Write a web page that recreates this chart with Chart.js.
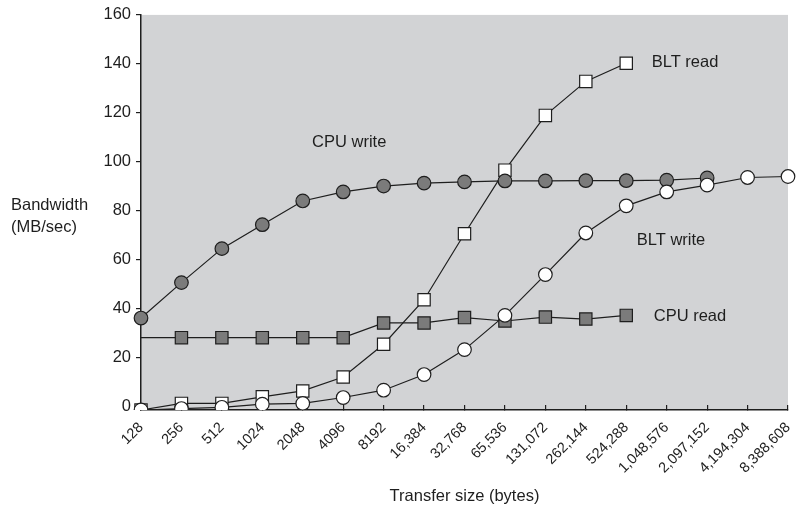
<!DOCTYPE html>
<html>
<head>
<meta charset="utf-8">
<script src="https://cdn.jsdelivr.net/npm/chart.js@4.4.1/dist/chart.umd.min.js"></script>
<style>
  html, body { margin: 0; padding: 0; background: #fff; }
  canvas { display: block; }
</style>
</head>
<body>
<canvas id="chart" width="801" height="507"></canvas>
<script>
// transfer sizes in bytes (x categories)
const sizes = ['128', '256', '512', '1024', '2048', '4096', '8192', '16,384', '32,768', '65,536',
  '131,072', '262,144', '524,288', '1,048,576', '2,097,152', '4,194,304', '8,388,608'];

// bandwidth in MB/sec
const cpuWrite = [36, 50.5, 64.4, 74.2, 83.9, 87.6, 90, 91.2, 91.7, 92.1, 92.1, 92.2, 92.2, 92.4, 93.3, null, null];
const cpuRead = [28, 28, 28, 28, 28, 28, 34, 34, 36.2, 34.8, 36.4, 35.6, 37.1, null, null, null, null];
const bltRead = [-1.6, 1.1, 1.1, 3.8, 6.2, 11.9, 25.3, 43.5, 70.5, 96.5, 118.9, 132.8, 140.2, null, null, null, null];
const bltWrite = [-1.6, -1, -0.5, 0.8, 1.1, 3.5, 6.5, 12.9, 23.1, 37.1, 53.8, 70.8, 81.9, 87.6, 90.4, 93.5, 93.9];

const yTicks = [0, 20, 40, 60, 80, 100, 120, 140, 160];
const seriesNames = ['CPU write', 'CPU read', 'BLT read', 'BLT write'];

const FONT = "'Liberation Sans', Arial, Helvetica, sans-serif";
const INK = '#1e1e1e';
const DARK_FILL = '#7b7b7b';

// where the series names sit, in data units (category index, MB/sec)
const namePlaces = {
  'CPU write': [4.23, 107.7],
  'BLT read': [12.63, 140.6],
  'BLT write': [12.26, 67.7],
  'CPU read': [12.68, 36.7],
};

const decor = {
  id: 'decor',
  beforeDraw(chart) {
    const { ctx, chartArea: a } = chart;
    ctx.save();
    ctx.fillStyle = '#d2d3d5';
    ctx.fillRect(a.left, a.top, a.right - a.left, a.bottom - a.top);
    ctx.restore();
  },
  afterDraw(chart) {
    const { ctx, scales } = chart;
    ctx.save();
    ctx.fillStyle = INK;
    ctx.font = '16.5px ' + FONT;
    ctx.textBaseline = 'middle';
    ctx.textAlign = 'left';
    for (const name of seriesNames) {
      const [i, v] = namePlaces[name];
      ctx.fillText(name, scales.x.getPixelForValue(i), scales.y.getPixelForValue(v));
    }
    ctx.fillText('Bandwidth', 11, 205);
    ctx.fillText('(MB/sec)', 11, 227);
    ctx.restore();
  },
};

function line(label, data, style, fill, radius) {
  return {
    label,
    data,
    borderColor: INK,
    borderWidth: 1.2,
    pointStyle: style,
    pointRadius: radius,
    pointBackgroundColor: fill,
    pointBorderColor: INK,
    pointBorderWidth: 1.2,
    tension: 0,
    spanGaps: false,
  };
}

new Chart(document.getElementById('chart'), {
  type: 'line',
  data: {
    labels: sizes,
    // first dataset is painted last (on top)
    datasets: [
      line('BLT write', bltWrite, 'circle', '#ffffff', 6.8),
      line('CPU write', cpuWrite, 'circle', DARK_FILL, 6.8),
      line('CPU read', cpuRead, 'rect', DARK_FILL, cpuRead.map((v, i) => (i === 0 ? 0 : 8.7))),
      line('BLT read', bltRead, 'rect', '#ffffff', 8.7),
    ],
  },
  options: {
    responsive: false,
    animation: false,
    layout: { padding: { top: 13, right: 13, left: 0, bottom: 0 } },
    plugins: { legend: { display: false }, tooltip: { enabled: false } },
    scales: {
      x: {
        type: 'category',
        offset: false,
        afterFit: (s) => { s.height = 97; s.paddingRight = 0; s.paddingLeft = 0; },
        border: { color: INK, width: 1.5 },
        grid: { drawOnChartArea: false, color: INK, tickLength: -5, lineWidth: 1.2 },
        ticks: {
          color: INK, font: { family: FONT, size: 14.5 },
          minRotation: 45, maxRotation: 45, autoSkip: false, padding: 14,
        },
        title: {
          display: true, text: 'Transfer size (bytes)', color: INK,
          font: { family: FONT, size: 16.5 }, padding: { top: 0, bottom: 1 },
        },
      },
      y: {
        min: -1.6,
        max: 160,
        afterFit: (s) => { s.width = 141; },
        afterBuildTicks: (s) => { s.ticks = yTicks.map((v) => ({ value: v })); },
        border: { color: INK, width: 1.5 },
        grid: { drawOnChartArea: false, color: INK, tickLength: 5, lineWidth: 1.2 },
        ticks: { color: INK, font: { family: FONT, size: 16.5 }, padding: 5 },
      },
    },
  },
  plugins: [decor],
});
</script>
</body>
</html>
